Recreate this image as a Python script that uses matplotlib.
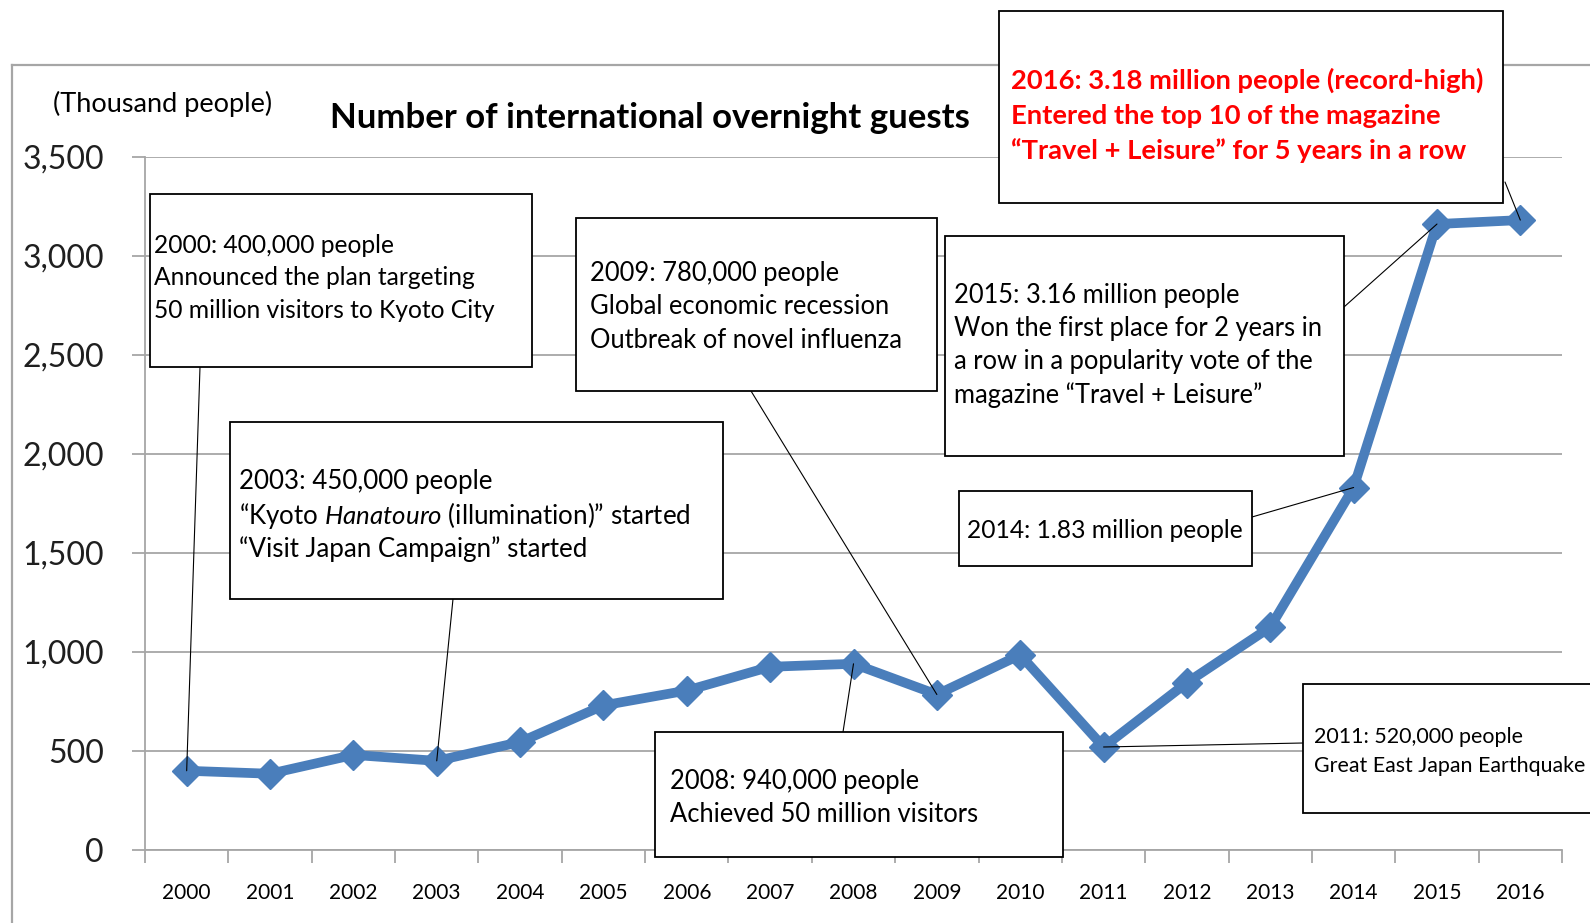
import matplotlib
matplotlib.use('Agg')
import matplotlib.pyplot as plt
from matplotlib.patches import Rectangle
from matplotlib.lines import Line2D

plt.rcParams['font.family'] = ['Lato', 'DejaVu Sans']
plt.rcParams['mathtext.fontset'] = 'custom'
plt.rcParams['mathtext.rm'] = 'Lato'
plt.rcParams['mathtext.it'] = 'Lato:italic'

# dados (mil pessoas)
anos = ['2000', '2001', '2002', '2003', '2004', '2005', '2006', '2007', '2008',
        '2009', '2010', '2011', '2012', '2013', '2014', '2015', '2016']
hospedes = [400, 385, 480, 450, 545, 730, 805, 925, 940,
            785, 985, 520, 845, 1125, 1830, 3160, 3180]
yticks = [0, 500, 1000, 1500, 2000, 2500, 3000, 3500]
ytick_labels = ['0', '500', '1,000', '1,500', '2,000', '2,500', '3,000', '3,500']

titulo = 'Number of international overnight guests'
unidade = '(Thousand people)'

notas_2000 = ['2000: 400,000 people', 'Announced the plan targeting',
              '50 million visitors to Kyoto City']
notas_2003 = ['2003: 450,000 people',
              '\u201cKyoto $\\mathit{Hanatouro}$ (illumination)\u201d started',
              '\u201cVisit Japan Campaign\u201d started']
notas_2009 = ['2009: 780,000 people', 'Global economic recession',
              'Outbreak of novel influenza']
notas_2015 = ['2015: 3.16 million people', 'Won the first place for 2 years in',
              'a row in a popularity vote of the',
              'magazine \u201cTravel + Leisure\u201d']
notas_2014 = ['2014: 1.83 million people']
notas_2016 = ['2016: 3.18 million people (record-high)',
              'Entered the top 10 of the magazine',
              '\u201cTravel + Leisure\u201d for 5 years in a row']
notas_2008 = ['2008: 940,000 people', 'Achieved 50 million visitors']
notas_2011 = ['2011: 520,000 people', 'Great East Japan Earthquake']

W, H = 1590, 923
cinza = '#a6a6a6'
azul = '#4a7ebb'


def px(x):
    return x / W


def py(y):
    return 1 - y / H


fig = plt.figure(figsize=(W / 100, H / 100), dpi=100)
ax = fig.add_axes([px(145), py(850), px(1562) - px(145), py(156.7) - py(850)])

x = list(range(len(anos)))
ax.plot(x, hospedes, color=azul, lw=7, marker='D', ms=15, zorder=3,
        solid_joinstyle='miter')

ax.set_xlim(-0.5, len(anos) - 0.5)
ax.set_ylim(0, 3500)
ax.set_yticks(yticks)
ax.set_yticklabels(ytick_labels, fontsize=23, color='#1f1f1f')
ax.set_xticks(x)
ax.set_xticklabels(anos, fontsize=15)
ax.set_xticks([i - 0.5 for i in range(len(anos) + 1)], minor=True)
ax.tick_params(axis='x', which='major', length=0, pad=24)
ax.tick_params(axis='x', which='minor', length=9, width=1.3, color=cinza, direction='out')
ax.tick_params(axis='y', length=9.5, width=1.3, color=cinza, pad=20)
ax.yaxis.grid(True, color=cinza, lw=1.3)
ax.set_axisbelow(True)
for lado in ['top', 'right']:
    ax.spines[lado].set_visible(False)
for lado in ['left', 'bottom']:
    ax.spines[lado].set_color(cinza)
    ax.spines[lado].set_linewidth(1.3)

# moldura externa
fig.add_artist(Line2D([px(12), px(12)], [py(65), 0], color=cinza, lw=1.6))
fig.add_artist(Line2D([px(12), 1], [py(65), py(65)], color=cinza, lw=1.6))

fig.text(px(650), py(118), titulo, fontsize=25, fontweight='bold', ha='center', va='center')
fig.text(px(53), py(104), unidade, fontsize=19.5, ha='left', va='center')

# caixas: (linhas, retangulo x0,y0,x1,y1, texto x, y da 1a linha, espacamento, cor, peso, tamanho,
#          ponto de saida da linha, indice do ano)
caixas = [
    (notas_2000, (150, 194, 532, 367), 154, 245, 32.5, 'black', 'normal', 17.7, (200, 367), 0),
    (notas_2003, (230, 422, 723, 599), 239, 482, 33.5, 'black', 'normal', 18.6, (453, 599), 3),
    (notas_2009, (576, 218, 937, 391), 590, 273, 33.5, 'black', 'normal', 18.4, (751, 391), 9),
    (notas_2015, (945, 236, 1344, 456), 954, 295, 33.5, 'black', 'normal', 18.4, (1344, 307), 15),
    (notas_2014, (959, 491, 1252, 566), 967, 530, 33, 'black', 'normal', 17.7, (1252, 517), 14),
    (notas_2016, (999, 11, 1503, 203), 1011, 80, 35.5, 'red', 'bold', 19.7, (1505, 182), 16),
    (notas_2008, (655, 732, 1063, 857), 670, 781, 33.5, 'black', 'normal', 18.4, (843, 732), 8),
    (notas_2011, (1303, 684, 1620, 813), 1314, 737, 28.5, 'black', 'normal', 15.4, (1303, 743), 11),
]

for linhas, ret, tx, ty, esp, cor, peso, tam, saida, idx in caixas:
    x0, y0, x1, y1 = ret
    fig.add_artist(Rectangle((px(x0), py(y1)), px(x1) - px(x0), py(y0) - py(y1),
                             transform=fig.transFigure, facecolor='white',
                             edgecolor='black', lw=1.3, zorder=4))
    for k, linha in enumerate(linhas):
        fig.text(px(tx), py(ty + k * esp), linha, fontsize=tam, color=cor,
                 fontweight=peso, ha='left', va='center', zorder=5)
    ax.annotate('', xy=(idx, hospedes[idx]), xycoords='data',
                xytext=(px(saida[0]), py(saida[1])), textcoords='figure fraction',
                arrowprops=dict(arrowstyle='-', color='black', lw=0.8,
                                shrinkA=0, shrinkB=0),
                annotation_clip=False, zorder=6)

fig.savefig('out.png', dpi=100)
